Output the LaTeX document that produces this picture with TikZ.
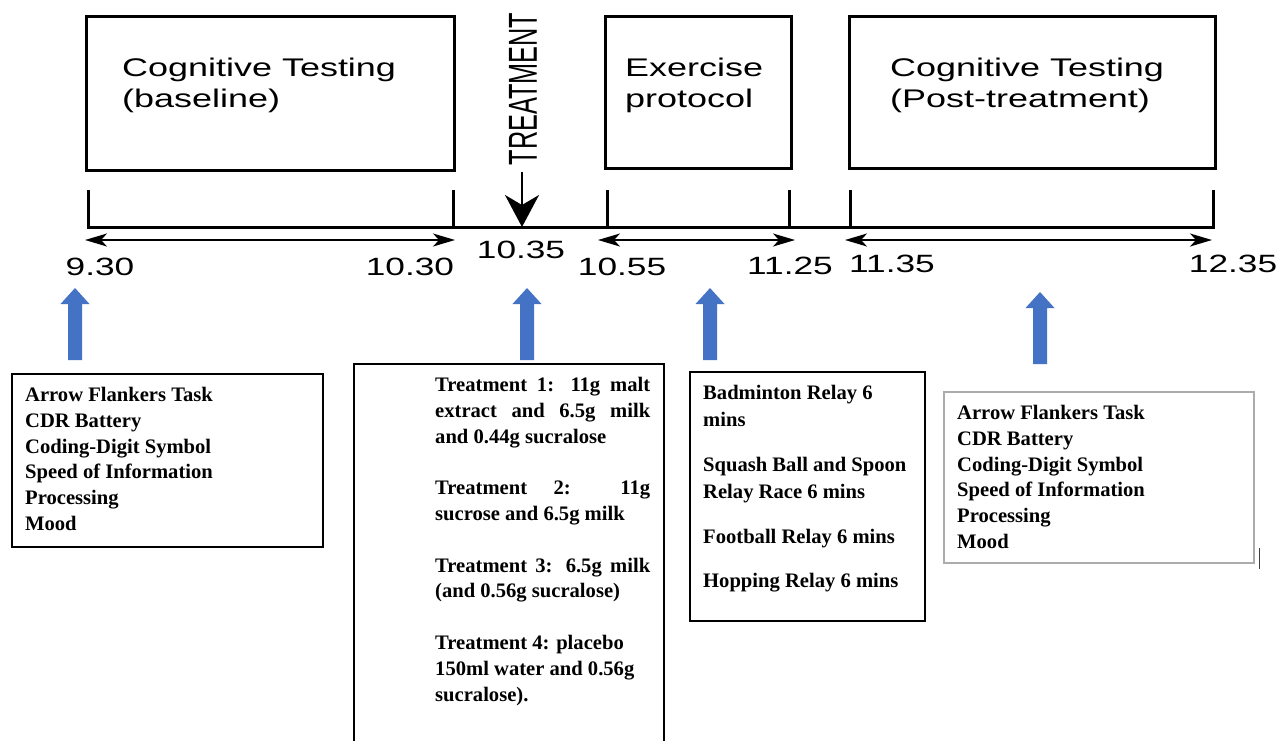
\documentclass[tikz,border=0pt]{standalone}
\usepackage{fontspec}
\setmainfont{Liberation Serif}
\newfontfamily\sanswide[FakeStretch=1.41]{Liberation Sans}
\newfontfamily\sansnorm{Liberation Sans}
\usetikzlibrary{arrows.meta,calc}
\definecolor{arrowblue}{RGB}{68,114,196}
\tikzset{
  phase/.style={draw, line width=3pt, anchor=north west, inner sep=0pt, outer sep=0pt},
  phasetext/.style={anchor=north west, inner sep=0pt, align=left, font=\sanswide\fontsize{25.5}{31}\selectfont},
  timetext/.style={inner sep=0pt, font=\sanswide\fontsize{25}{25}\selectfont},
  tickline/.style={line width=3pt},
  span/.style={line width=1.6pt, {Stealth[length=22pt,width=13pt,inset=6pt]}-{Stealth[length=22pt,width=13pt,inset=6pt]}},
  infobox/.style={draw, line width=1.2pt, anchor=north west, inner sep=0pt, outer sep=0pt},
  infotext/.style={anchor=north west, inner sep=0pt, align=left, font=\bfseries\fontsize{20.6}{25.8}\selectfont},
  uparrow/.pic={\fill[arrowblue] (-7,72) -- (-7,16) -- (-14.5,16) -- (0,0) -- (14.5,16) -- (7,16) -- (7,72) -- cycle;}
}
\begin{document}
\begin{tikzpicture}[x=1pt,y=-1pt]
\useasboundingbox[fill=white] (0,0) rectangle (1281,740);

% phase boxes
\node[phase, minimum width=368pt, minimum height=154pt] (base) at (86,16) {};
\node[phase, minimum width=186pt, minimum height=152pt] (exer) at (605,16) {};
\node[phase, minimum width=366pt, minimum height=152pt] (post) at (849,16) {};
\node[phasetext] (baset) at (122,58) {Cognitive Testing\\(baseline)};
\node[phasetext] (exert) at (625,58) {Exercise\\protocol};
\node[phasetext] (postt) at (890,58) {Cognitive Testing\\(Post-treatment)};

% timeline
\coordinate (t1) at (88,227);
\coordinate (t2) at (453,227);
\coordinate (tr) at (522,227);
\coordinate (t3) at (607,227);
\coordinate (t4) at (789,227);
\coordinate (t5) at (850,227);
\coordinate (t6) at (1213,227);
\draw[tickline] ($(t1)+(0,-37)$) -- (t1) -- (t6) -- ($(t6)+(0,-37)$);
\foreach \t in {t2,t3,t4,t5} \draw[tickline] (\t) -- ++(0,-37);

% treatment arrow
\node[inner sep=0pt, rotate=90] (treat) at (523,89) {\scalebox{1}[1.6]{\sansnorm\fontsize{25.3}{25}\selectfont TREATMENT}};
\coordinate (trtop) at (522,172);
\draw[line width=2pt, -{Stealth[length=32pt,width=34pt,inset=10pt]}] (trtop) -- (tr);

% spans
\coordinate (s1a) at (85,240);  \coordinate (s1b) at (455,240);
\coordinate (s2a) at (598,240); \coordinate (s2b) at (795,240);
\coordinate (s3a) at (845,240); \coordinate (s3b) at (1212,240);
\draw[span] (s1a) -- (s1b);
\draw[span] (s2a) -- (s2b);
\draw[span] (s3a) -- (s3b);

% time labels
\node[timetext] (l1) at (100,267) {9.30};
\node[timetext] (l2) at (410,267) {10.30};
\node[timetext] (l3) at (521,250) {10.35};
\node[timetext] (l4) at (622,267) {10.55};
\node[timetext] (l5) at (790,266) {11.25};
\node[timetext] (l6) at (892,264) {11.35};
\node[timetext] (l7) at (1233,264) {12.35};

% blue arrows
\pic (a1) at (75,288) {uparrow};
\pic (a2) at (527,288) {uparrow};
\pic (a3) at (710,288) {uparrow};
\pic (a4) at (1040,292) {uparrow};

% info boxes
\node[infobox, minimum width=311pt, minimum height=173pt] (boxa) at (12,374) {};
\node[infotext] (texta) at (25,387) {Arrow Flankers Task\\CDR Battery\\Coding-Digit Symbol\\Speed of Information\\Processing\\Mood};

\draw[line width=1.2pt] (354,745) -- (354,364) -- (664,364) -- (664,745);
\node[infotext] (textb) at (435,377) {%
\makebox[215pt][s]{Treatment 1: 11g malt}\\
\makebox[215pt][s]{extract and 6.5g milk}\\
and 0.44g sucralose\\[25.8pt]
\makebox[215pt][s]{Treatment 2: 11g}\\
sucrose and 6.5g milk\\[25.8pt]
\makebox[215pt][s]{Treatment 3: 6.5g milk}\\
(and 0.56g sucralose)\\[25.8pt]
Treatment 4: placebo\\
150ml water and 0.56g\\
sucralose).};

\node[infobox, minimum width=235pt, minimum height=249pt] (boxc) at (690,372) {};
\node[infotext, font=\bfseries\fontsize{20.6}{27}\selectfont] (textc) at (703,385) {Badminton Relay 6\\mins\\[18pt]Squash Ball and Spoon\\Relay Race 6 mins\\[18pt]Football Relay 6 mins\\[17pt]Hopping Relay 6 mins};

\node[infobox, draw=gray!65, line width=1.8pt, minimum width=310pt, minimum height=171pt] (boxd) at (944,392) {};
\node[infotext] (textd) at (957,405) {Arrow Flankers Task\\CDR Battery\\Coding-Digit Symbol\\Speed of Information\\Processing\\Mood};
\coordinate (cur1) at (1259,548);
\coordinate (cur2) at (1259,569);
\draw[line width=1pt, black!75] (cur1) -- (cur2);
\end{tikzpicture}
\end{document}
